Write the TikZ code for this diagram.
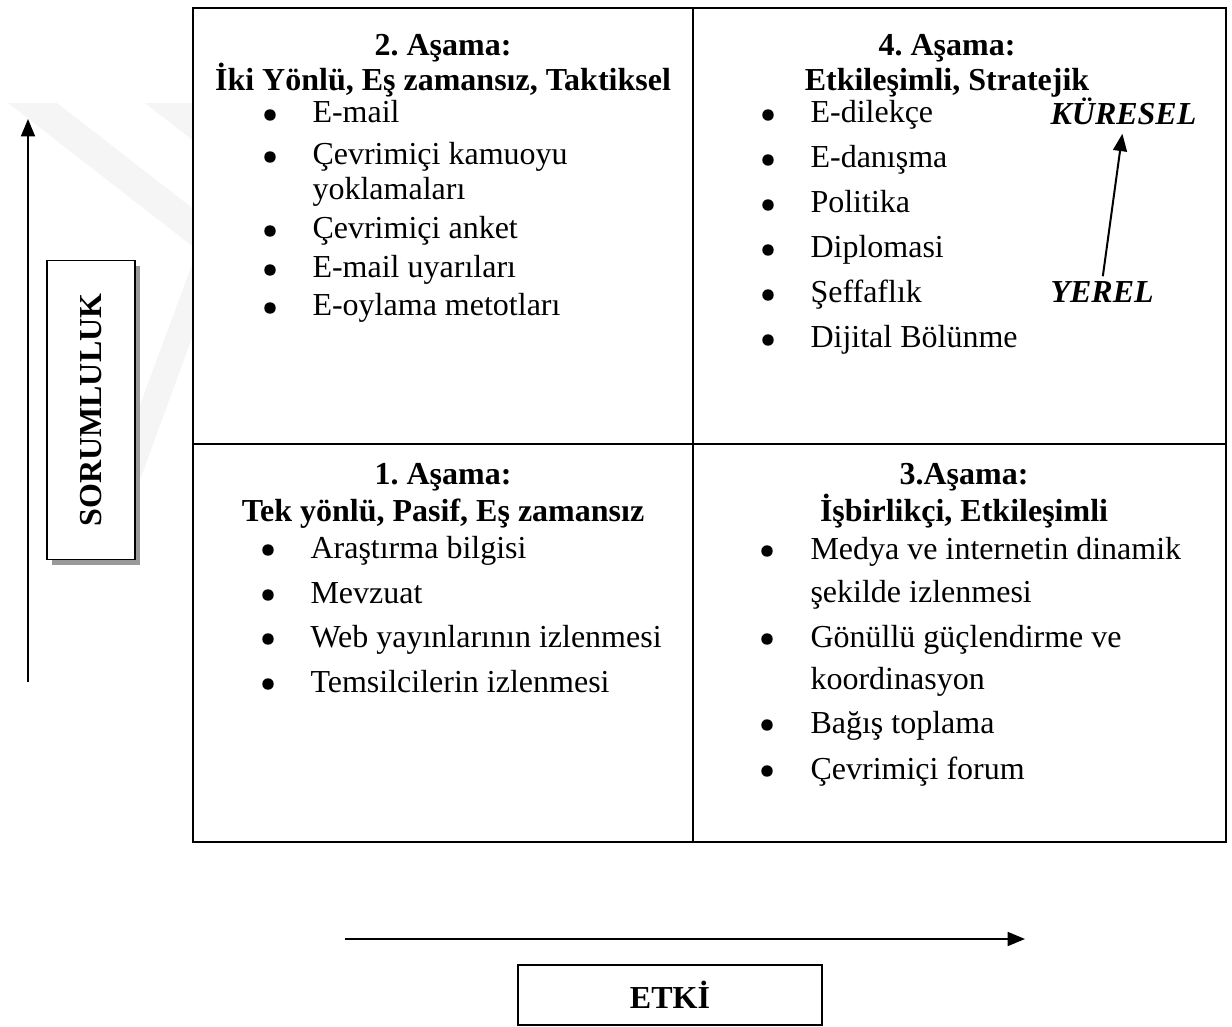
\documentclass[tikz,border=0pt]{standalone}
\usepackage{fontspec}
\setmainfont{Liberation Serif}
\usetikzlibrary{arrows.meta,shadows}
\begin{document}
\begin{tikzpicture}[x=0.375pt,y=-0.375pt,
  every node/.style={font=\fontsize{12pt}{14pt}\selectfont, inner sep=0pt},
  item/.style={anchor=base west},
  bul/.style={circle, fill, minimum size=4.3pt},
  head/.style={anchor=base, font=\fontsize{12pt}{14pt}\selectfont\bfseries},
  lvl/.style={anchor=base west, font=\fontsize{12pt}{14pt}\selectfont\bfseries\itshape},
  arr/.style={-{Triangle[width=5.2pt,length=6.5pt]}, line width=0.75pt},
  grid/.style={line width=0.8pt},
  axisbox/.style={draw, line width=0.6pt, fill=white, font=\fontsize{12pt}{14pt}\selectfont\bfseries}]
\useasboundingbox (0,0) rectangle (1232,1026);

\fill[gray!8] (8,103) -- (57,103) -- (330,315) -- (281,315) -- cycle;
\fill[gray!8] (145,103) -- (193,103) -- (330,210) -- (282,210) -- cycle;
\fill[gray!8] (193,262) -- (193,335) -- (140,480) -- (140,405) -- cycle;

\draw[grid, fill=white] (193,8) rectangle (1226,842);
\draw[grid] (693,8) -- (693,842);
\draw[grid] (193,444) -- (1226,444);

\node[head] at (443,56) (h2a) {2.\ Aşama:};
\node[head] at (443,91) (h2b) {İki Yönlü, Eş zamansız, Taktiksel};
\node[head] at (947,56) (h4a) {4.\ Aşama:};
\node[head] at (947,91) (h4b) {Etkileşimli, Stratejik};
\node[head] at (443,484) (h1a) {1.\ Aşama:};
\node[head] at (443,521) (h1b) {Tek yönlü, Pasif, Eş zamansız};
\node[head] at (964,484) (h3a) {3.Aşama:};
\node[head] at (964,521) (h3b) {İşbirlikçi, Etkileşimli};

\foreach \y/\t [count=\i] in {123/E-mail, 165/Çevrimiçi kamuoyu, 239/Çevrimiçi anket, 278/E-mail uyarıları, 316/E-oylama metotları}{
  \node[bul] at (270,\y-8) (b2\i) {};
  \node[item] at (312,\y) (s2\i) {\t};
}
\node[item] at (312,200) (s2x) {yoklamaları};

\foreach \y/\t [count=\i] in {123/E-dilekçe, 168/E-danışma, 213/Politika, 258/Diplomasi, 303/Şeffaflık, 348/Dijital Bölünme}{
  \node[bul] at (768,\y-8) (b4\i) {};
  \node[item] at (810,\y) (s4\i) {\t};
}

\foreach \y/\t [count=\i] in {558/Araştırma bilgisi, 603/Mevzuat, 647/Web yayınlarının izlenmesi, 692/Temsilcilerin izlenmesi}{
  \node[bul] at (268,\y-8) (b1\i) {};
  \node[item] at (310,\y) (s1\i) {\t};
}

\foreach \y/\t [count=\i] in {559/Medya ve internetin dinamik, 647/Gönüllü güçlendirme ve, 733/Bağış toplama, 779/Çevrimiçi forum}{
  \node[bul] at (767,\y-8) (b3\i) {};
  \node[item] at (810,\y) (s3\i) {\t};
}
\node[item] at (810,602) (s3x) {şekilde izlenmesi};
\node[item] at (810,689) (s3y) {koordinasyon};

\node[lvl] at (1050,125) (kur) {KÜRESEL};
\node[lvl] at (1050,303) (yer) {YEREL};
\draw[arr, shorten <=2pt, shorten >=3pt] (yer.north) -- (kur.south);

\coordinate (ybot) at (28,682);
\coordinate (ytop) at (28,119);
\draw[arr] (ybot) -- (ytop);
\node[axisbox, minimum width=33pt, minimum height=112pt,
  drop shadow={shadow xshift=2pt, shadow yshift=-2pt, fill=gray!80, opacity=1}]
  at (91,410) (sor) {\rotatebox{90}{SORUMLULUK}};

\coordinate (xl) at (345,939);
\coordinate (xr) at (1025,939);
\draw[arr] (xl) -- (xr);
\node[axisbox, minimum width=114pt, minimum height=22.5pt] at (670,995) (etki) {ETKİ};
\end{tikzpicture}
\end{document}
